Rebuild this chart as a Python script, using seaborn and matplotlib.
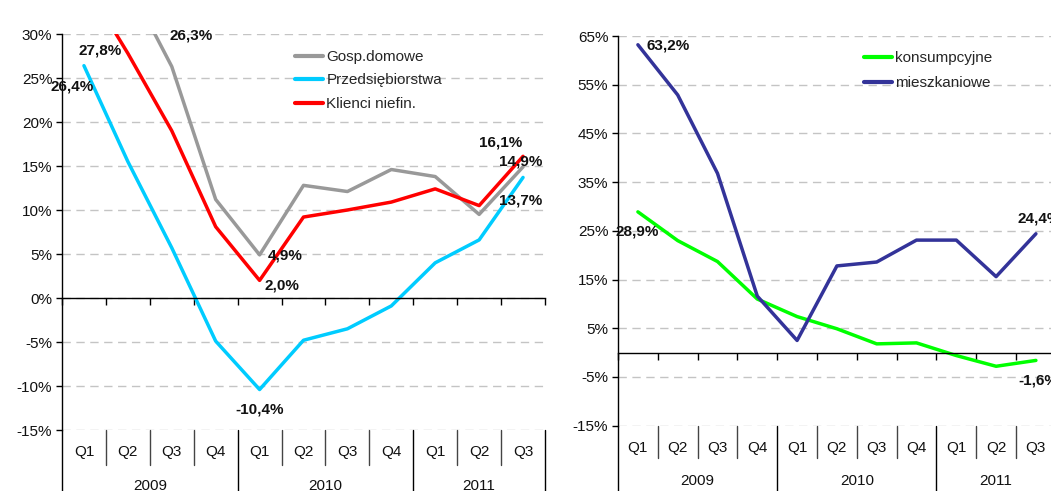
import numpy as np
import pandas as pd
import matplotlib
matplotlib.use("Agg")
import matplotlib.pyplot as plt
from matplotlib import transforms
from matplotlib.ticker import FixedLocator, FuncFormatter, NullFormatter
import seaborn as sns

# ---------------- data ----------------
quarters = ["Q1", "Q2", "Q3", "Q4", "Q1", "Q2", "Q3", "Q4", "Q1", "Q2", "Q3"]
years = ["2009", "2010", "2011"]
year_sizes = [4, 4, 3]

gosp_domowe = [40.0, 35.9, 26.3, 11.2, 4.9, 12.8, 12.1, 14.6, 13.8, 9.5, 14.9]
przedsiebiorstwa = [26.4, 15.5, 5.7, -4.9, -10.4, -4.8, -3.5, -0.9, 4.0, 6.6, 13.7]
klienci_niefin = [36.0, 27.8, 19.0, 8.1, 2.0, 9.2, 10.0, 10.9, 12.4, 10.5, 16.1]

konsumpcyjne = [28.9, 23.0, 18.7, 11.0, 7.4, 4.9, 1.8, 2.0, -0.6, -2.8, -1.6]
mieszkaniowe = [63.2, 52.9, 36.8, 11.6, 2.5, 17.8, 18.6, 23.1, 23.1, 15.6, 24.4]

left_names = ["Gosp.domowe", "Przedsiębiorstwa", "Klienci niefin."]
left_values = [gosp_domowe, przedsiebiorstwa, klienci_niefin]
left_colors = ["#999999", "#00ccff", "#ff0000"]

right_names = ["konsumpcyjne", "mieszkaniowe"]
right_values = [konsumpcyjne, mieszkaniowe]
right_colors = ["#00ff00", "#333399"]

# (series index, point index, dx px, dy px)
left_labels = [(2, 1, -28, 3), (1, 0, -12, -21), (0, 2, 19, 31), (0, 4, 26, -1),
               (2, 4, 22, -5), (1, 4, 0, -20), (2, 10, -22, 14), (0, 10, -2, 5),
               (1, 10, -2, -23)]
right_labels = [(1, 0, 30, -1), (0, 0, -1, -20), (1, 10, 3, 15), (0, 10, 2, -20)]

# ---------------- style ----------------
sns.set_style("white")
plt.rcParams["font.family"] = ["Liberation Sans", "DejaVu Sans"]
plt.rcParams["font.size"] = 11

W, H = 1051, 491
fig = plt.figure(figsize=(W / 100, H / 100), dpi=100)

ax_l = fig.add_axes([62 / W, 1 - 430 / H, 483 / W, 396 / H])
ax_r = fig.add_axes([618 / W, 1 - 425.7 / H, 437.8 / W, 389.7 / H])

idx = np.arange(len(quarters))


def fmt_pct(v):
    return f"{v:.1f}%".replace(".", ",")


def draw_panel(ax, names, values, colors, ylim, yticks, labels):
    for name, vals, col in zip(names, values, colors):
        df = pd.DataFrame({"x": idx, "y": vals})
        sns.lineplot(data=df, x="x", y="y", ax=ax, color=col, linewidth=2.5,
                     label=name, estimator=None, sort=False)
    ax.set_xlim(-0.5, len(quarters) - 0.5)
    ax.set_ylim(*ylim)
    ax.set_xlabel("")
    ax.set_ylabel("")
    ax.yaxis.set_major_locator(FixedLocator(yticks))
    ax.yaxis.set_major_formatter(FuncFormatter(lambda v, p: f"{int(round(v))}%"))
    ax.xaxis.set_major_locator(FixedLocator(np.arange(-0.5, len(quarters), 1.0)))
    ax.xaxis.set_major_formatter(NullFormatter())
    for t in yticks:
        ax.axhline(t, color="#c4c4c4", lw=1.0, ls=(0, (6, 4)), zorder=0)
    ax.spines["top"].set_visible(False)
    ax.spines["right"].set_visible(False)
    ax.spines["bottom"].set_position(("data", 0))
    ax.spines["left"].set_color("black")
    ax.spines["bottom"].set_color("black")
    ax.spines["left"].set_linewidth(1.0)
    ax.spines["bottom"].set_linewidth(1.0)
    ax.tick_params(axis="y", direction="out", length=4, width=1, color="black",
                   labelsize=11, labelcolor="#111111", left=True, pad=3)
    ax.tick_params(axis="x", direction="out", length=5, width=1, color="black",
                   bottom=True)
    for si, pi, dx, dy in labels:
        v = values[si][pi]
        ax.annotate(fmt_pct(v), xy=(pi, v), xytext=(dx, dy),
                    textcoords="offset pixels", ha="center", va="center",
                    fontsize=11, fontweight="bold", color="#111111",
                    annotation_clip=False, zorder=5)


def draw_table(ax, q_y, sep_y, year_y):
    h = ax.get_position().height * H
    trans = transforms.blended_transform_factory(ax.transData, ax.transAxes)
    for i, q in enumerate(quarters):
        ax.text(i, -q_y / h, q, transform=trans, ha="center", va="center",
                fontsize=11, color="#111111")
    bounds = np.cumsum([0] + year_sizes)
    for b in range(len(quarters) + 1):
        x = b - 0.5
        if b in bounds:
            ax.plot([x, x], [0, -80 / h], transform=trans, clip_on=False,
                    color="black", lw=1.0)
        else:
            ax.plot([x, x], [0, -sep_y / h], transform=trans, clip_on=False,
                    color="#444444", lw=1.0)
    for k, yname in enumerate(years):
        c = (bounds[k] + bounds[k + 1] - 1) / 2
        ax.text(c, -year_y / h, yname, transform=trans, ha="center",
                va="center", fontsize=11, color="#111111")


draw_panel(ax_l, left_names, left_values, left_colors, (-15, 30),
           list(range(-15, 31, 5)), left_labels)
draw_panel(ax_r, right_names, right_values, right_colors, (-15, 65),
           list(range(-15, 66, 10)), right_labels)

draw_table(ax_l, 22, 35, 56)
draw_table(ax_r, 22, 32, 55)

for ax, x0, y0, sp in [(ax_l, 295, 50, 0.62), (ax_r, 864, 51, 0.75)]:
    leg = ax.legend(loc="upper left", bbox_to_anchor=(x0 / W, 1 - y0 / H),
                    bbox_transform=fig.transFigure, frameon=False,
                    fontsize=11, handlelength=1.85, handletextpad=0.2,
                    labelspacing=sp, borderpad=0, borderaxespad=0)
    for line in leg.get_lines():
        line.set_linewidth(3.0)

fig.savefig("out.png", dpi=100)
